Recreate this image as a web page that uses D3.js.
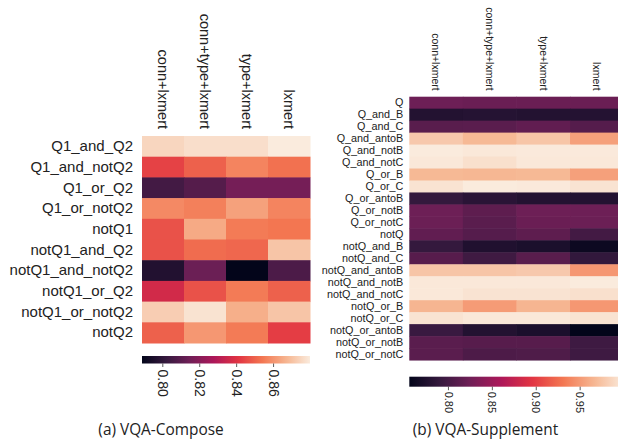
<!DOCTYPE html>
<html>
<head>
<meta charset="utf-8">
<script src="https://cdn.jsdelivr.net/npm/d3@7"></script>
<style>
  body { margin: 0; background: #fff; }
  svg { display: block; }
  .lbl { font-family: "Liberation Sans", Arial, sans-serif; fill: #222; }
  .cap { font-family: "Open Sans", sans-serif; fill: #222; }
</style>
</head>
<body>
<div id="chart"></div>
<script>
const models = ["conn+lxmert", "conn+type+lxmert", "type+lxmert", "lxmert"];

const composeRows = ["Q1_and_Q2", "Q1_and_notQ2", "Q1_or_Q2", "Q1_or_notQ2", "notQ1",
                     "notQ1_and_Q2", "notQ1_and_notQ2", "notQ1_or_Q2", "notQ1_or_notQ2", "notQ2"];
const composeValues = [[0.875, 0.877, 0.877, 0.880],
                       [0.844, 0.850, 0.857, 0.853],
                       [0.805, 0.809, 0.816, 0.816],
                       [0.858, 0.856, 0.863, 0.857],
                       [0.847, 0.865, 0.855, 0.854],
                       [0.847, 0.852, 0.851, 0.871],
                       [0.797, 0.814, 0.789, 0.807],
                       [0.837, 0.847, 0.855, 0.850],
                       [0.873, 0.878, 0.866, 0.871],
                       [0.850, 0.861, 0.855, 0.843]];
const composeTicks = [0.80, 0.82, 0.84, 0.86];

const supplementRows = ["Q", "Q_and_B", "Q_and_C", "Q_and_antoB", "Q_and_notB", "Q_and_notC",
                        "Q_or_B", "Q_or_C", "Q_or_antoB", "Q_or_notB", "Q_or_notC", "notQ",
                        "notQ_and_B", "notQ_and_C", "notQ_and_antoB", "notQ_and_notB", "notQ_and_notC",
                        "notQ_or_B", "notQ_or_C", "notQ_or_antoB", "notQ_or_notB", "notQ_or_notC"];
const supplementValues = [[0.824, 0.822, 0.822, 0.822],
                          [0.778, 0.780, 0.778, 0.779],
                          [0.812, 0.813, 0.817, 0.810],
                          [0.978, 0.968, 0.976, 0.954],
                          [1.000, 0.998, 0.999, 0.999],
                          [0.998, 0.993, 0.998, 0.998],
                          [0.968, 0.967, 0.968, 0.954],
                          [0.995, 1.000, 0.999, 0.995],
                          [0.790, 0.783, 0.778, 0.778],
                          [0.824, 0.815, 0.824, 0.824],
                          [0.823, 0.813, 0.822, 0.823],
                          [0.817, 0.810, 0.815, 0.799],
                          [0.790, 0.776, 0.773, 0.763],
                          [0.811, 0.797, 0.812, 0.789],
                          [0.976, 0.976, 0.978, 0.949],
                          [0.998, 0.998, 0.998, 1.000],
                          [0.998, 0.995, 0.995, 0.993],
                          [0.966, 0.951, 0.966, 0.949],
                          [0.995, 0.998, 0.998, 0.995],
                          [0.793, 0.778, 0.773, 0.756],
                          [0.813, 0.811, 0.811, 0.796],
                          [0.813, 0.805, 0.806, 0.796]];
const supplementTicks = [0.80, 0.85, 0.90, 0.95];

// seaborn "rocket" colormap, sampled stops
const rocketStops = ["#03051a", "#35193e", "#701f57", "#ad1759", "#e13342", "#f37651", "#f6b48f", "#faebdd"];
const rocket = d3.piecewise(d3.interpolateRgb, rocketStops);

const svg = d3.select("#chart")
              .append("svg")
              .attr("width", 618)
              .attr("height", 441);

function drawHeatmap(opt) {
    const { rows, values, ticks, left, top, cellW, cellH, rowFont, colFont, tickFont,
            barTop, barH, caption, captionX, id } = opt;
    const right = left + cellW * models.length;
    const bottom = top + cellH * rows.length;

    const all = values.flat();
    const color = d3.scaleSequential(rocket).domain(d3.extent(all));

    const xScale = d3.scaleBand().domain(models).range([left, right]);
    const yScale = d3.scaleBand().domain(rows).range([top, bottom]);

    const g = svg.append("g");

    // cells
    g.append("g")
     .selectAll("g")
     .data(values)
     .join("g")
     .selectAll("rect")
     .data((d, i) => d.map((v, j) => ({ row: rows[i], col: models[j], v })))
     .join("rect")
     .attr("x", d => xScale(d.col))
     .attr("y", d => yScale(d.row))
     .attr("width", xScale.bandwidth() + 0.5)
     .attr("height", yScale.bandwidth() + 0.5)
     .attr("fill", d => color(d.v));

    // row labels
    g.append("g")
     .attr("transform", `translate(${left}, 0)`)
     .call(d3.axisLeft(yScale).tickSize(0).tickPadding(opt.rowPad))
     .call(a => {
         a.select(".domain").remove();
         a.selectAll("text").attr("class", "lbl").style("font-size", rowFont);
     })
     .attr("font-family", null);

    // column labels (rotated)
    g.append("g")
     .attr("transform", `translate(0, ${top})`)
     .call(d3.axisTop(xScale).tickSize(0))
     .call(a => {
         a.select(".domain").remove();
         a.selectAll("text")
          .attr("class", "lbl")
          .style("font-size", colFont)
          .attr("transform", "rotate(90)")
          .attr("x", -opt.colPad)
          .attr("y", 0)
          .attr("dy", "0.35em")
          .attr("text-anchor", "end");
     })
     .attr("font-family", null);

    // colorbar
    const grad = svg.append("defs")
                    .append("linearGradient")
                    .attr("id", id)
                    .attr("x1", "0%").attr("x2", "100%");
    d3.range(0, 1.0001, 0.02).forEach(t => {
        grad.append("stop").attr("offset", `${t * 100}%`).attr("stop-color", rocket(t));
    });

    const cScale = d3.scaleLinear().domain(color.domain()).range([left, right]);
    g.append("rect")
     .attr("x", left)
     .attr("y", barTop)
     .attr("width", right - left)
     .attr("height", barH)
     .attr("fill", `url(#${id})`);

    g.append("g")
     .attr("transform", `translate(0, ${barTop + barH})`)
     .call(d3.axisBottom(cScale).tickValues(ticks).tickFormat(d3.format(".2f")).tickSize(3.5).tickPadding(2))
     .call(a => {
         a.select(".domain").remove();
         a.selectAll("line").attr("stroke", "#333").attr("stroke-width", 0.8);
         a.selectAll("text")
          .attr("class", "lbl")
          .style("font-size", tickFont)
          .attr("transform", "rotate(90)")
          .attr("x", opt.tickPad)
          .attr("y", 0)
          .attr("dy", "0.35em")
          .attr("text-anchor", "start");
     })
     .attr("font-family", null);

    // caption
    svg.append("text")
       .attr("class", "cap")
       .attr("x", captionX)
       .attr("y", 435)
       .attr("text-anchor", "middle")
       .style("font-size", "15.4px")
       .text(caption);
}

drawHeatmap({
    id: "grad-a", rows: composeRows, values: composeValues, ticks: composeTicks,
    left: 142, top: 136, cellW: 42, cellH: 20.7,
    rowFont: "15px", colFont: "14.5px", tickFont: "14px",
    rowPad: 9, colPad: 7, tickPad: 6,
    barTop: 356, barH: 7.5, caption: "(a) VQA-Compose", captionX: 161
});

drawHeatmap({
    id: "grad-b", rows: supplementRows, values: supplementValues, ticks: supplementTicks,
    left: 409.3, top: 96.7, cellW: 53.57, cellH: 11.97,
    rowFont: "10.8px", colFont: "10.5px", tickFont: "11px",
    rowPad: 6, colPad: 6, tickPad: 5,
    barTop: 376.7, barH: 10, caption: "(b) VQA-Supplement", captionX: 485.5
});
</script>
</body>
</html>
